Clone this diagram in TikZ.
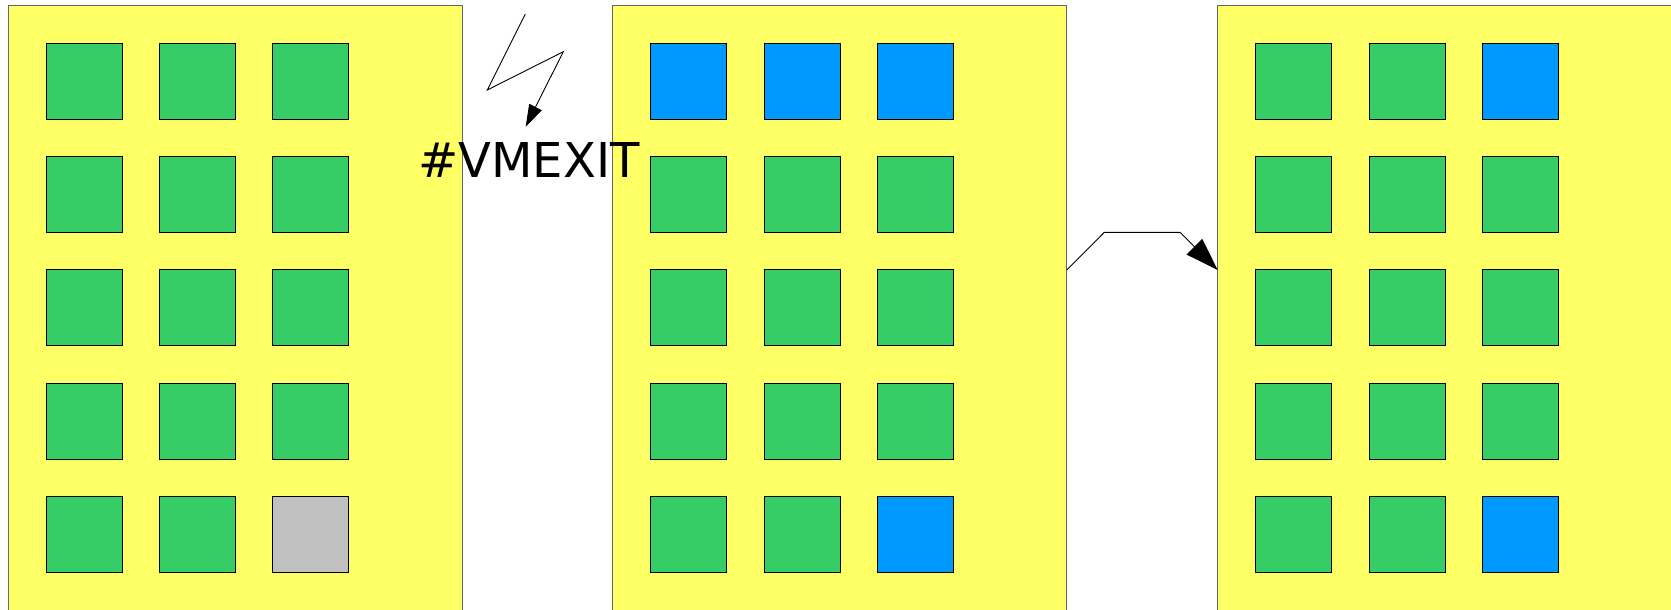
\documentclass[tikz,border=0pt]{standalone}
\usepackage{fontspec}
\newfontfamily\dvsans{DejaVu Sans}
\usetikzlibrary{arrows.meta,calc}
\definecolor{panelyellow}{HTML}{FFFF66}
\definecolor{cellgreen}{HTML}{36CC66}
\definecolor{cellblue}{HTML}{0099FF}
\definecolor{cellgray}{HTML}{C0C0C0}
\definecolor{panelborder}{HTML}{666666}
\tikzset{
  panelbox/.style={draw=panelborder, fill=panelyellow, line width=1pt, minimum width=454pt, minimum height=700pt, anchor=north west, inner sep=0pt, outer sep=0pt},
  cell/.style={draw=black, line width=1pt, minimum size=76pt, inner sep=0pt, outer sep=0pt},
  gcell/.style={cell, fill=cellgreen},
  bcell/.style={cell, fill=cellblue},
  ycell/.style={cell, fill=cellgray},
  wire/.style={draw=black, line width=0.9pt},
}
\begin{document}
\begin{tikzpicture}[x=1pt,y=-1pt]
\useasboundingbox (0,0) rectangle (1671,610);
\clip (0,0) rectangle (1671,610);
% panels
\node[panelbox] (p1) at (8,6) {};
\node[panelbox] (p2) at (612.8,6) {};
\node[panelbox] (p3) at (1217.7,6) {};
% cells
\foreach \p/\px in {1/8,2/612.8,3/1217.7}{
  \foreach \r in {0,...,4}{
    \foreach \c in {0,1,2}{
      \pgfmathsetmacro{\cx}{\px+76+113.4*\c}
      \pgfmathsetmacro{\cy}{81.3+113.3*\r}
      \def\sty{gcell}
      \ifnum\p=1 \ifnum\r=4 \ifnum\c=2 \def\sty{ycell}\fi\fi\fi
      \ifnum\p=2 \ifnum\r=0 \def\sty{bcell}\fi \ifnum\r=4 \ifnum\c=2 \def\sty{bcell}\fi\fi\fi
      \ifnum\p=3 \ifnum\c=2 \ifnum\r=0 \def\sty{bcell}\fi \ifnum\r=4 \def\sty{bcell}\fi\fi\fi
      \node[\sty] (c\p-\r-\c) at (\cx,\cy) {};
    }
  }
}
% lightning
\coordinate (l0) at (525.3,14);
\coordinate (l1) at (487.3,90);
\coordinate (l2) at (563.3,51.7);
\coordinate (l3) at (525.7,126.7);
\draw[wire, -{Triangle[length=22pt,width=14pt]}] (l0) -- (l1) -- (l2) -- (l3);
\node[anchor=base, inner sep=0pt, font=\dvsans\fontsize{48}{52}\selectfont] (vmexit) at (529,177) {\#VMEXIT};
% connector
\coordinate (a0) at ($(p2.north east)+(0,264)$);
\coordinate (a1) at (1104.3,232.3);
\coordinate (a2) at (1180,232.3);
\coordinate (a3) at ($(p3.north west)+(0,264)$);
\draw[wire, -{Triangle[length=33pt,width=22pt]}] (a0) -- (a1) -- (a2) -- (a3);
\end{tikzpicture}
\end{document}
